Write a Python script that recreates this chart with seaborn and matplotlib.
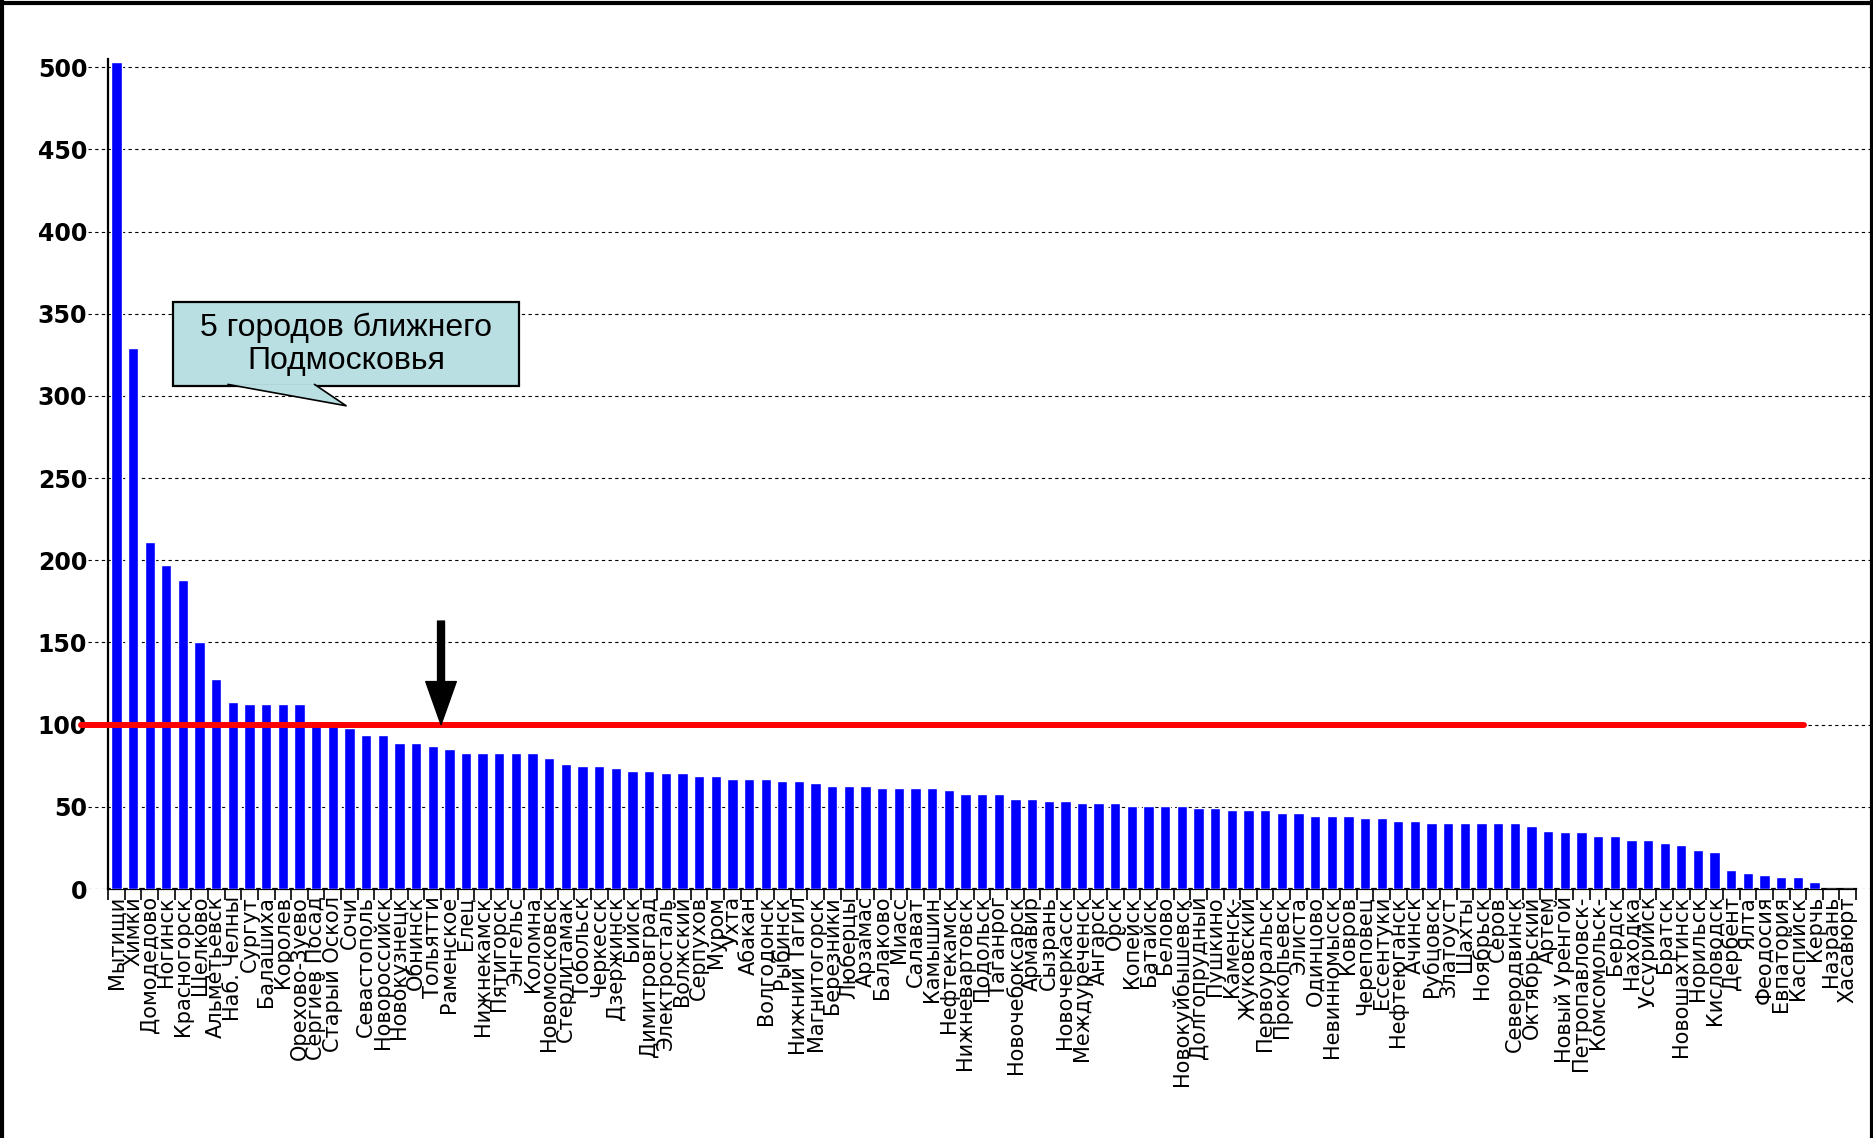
import numpy as np
import pandas as pd
import matplotlib
matplotlib.use("Agg")
import matplotlib.pyplot as plt
import seaborn as sns
from matplotlib.lines import Line2D
from matplotlib.patches import Rectangle

cities = [
    "Мытищи", "Химки", "Домодедово", "Ногинск", "Красногорск", "Щелково",
    "Альметьевск", "Наб. Челны", "Сургут", "Балашиха", "Королев",
    "Орехово-Зуево", "Сергиев Посад", "Старый Оскол", "Сочи", "Севастополь",
    "Новороссийск", "Новокузнецк", "Обнинск", "Тольятти", "Раменское", "Елец",
    "Нижнекамск", "Пятигорск", "Энгельс", "Коломна", "Новомосковск",
    "Стерлитамак", "Тобольск", "Черкесск", "Дзержинск", "Бийск",
    "Димитровград", "Электросталь", "Волжский", "Серпухов", "Муром", "Ухта",
    "Абакан", "Волгодонск", "Рыбинск", "Нижний Тагил", "Магнитогорск",
    "Березники", "Люберцы", "Арзамас", "Балаково", "Миасс", "Салават",
    "Камышин", "Нефтекамск", "Нижневартовск", "Подольск", "Таганрог",
    "Новочебоксарск", "Армавир", "Сызрань", "Новочеркасск", "Междуреченск",
    "Ангарск", "Орск", "Копейск", "Батайск", "Белово", "Новокуйбышевск",
    "Долгопрудный", "Пушкино", "Каменск-", "Жуковский", "Первоуральск",
    "Прокопьевск", "Элиста", "Одинцово", "Невинномысск", "Ковров",
    "Череповец", "Ессентуки", "Нефтеюганск", "Ачинск", "Рубцовск",
    "Златоуст", "Шахты", "Ноябрьск", "Серов", "Северодвинск", "Октябрьский",
    "Артем", "Новый Уренгой", "Петропавловск-", "Комсомольск-", "Бердск",
    "Находка", "Уссурийск", "Братск", "Новошахтинск", "Норильск",
    "Кисловодск", "Дербент", "Ялта", "Феодосия", "Евпатория", "Каспийск",
    "Керчь", "Назрань", "Хасавюрт",
]

values = [
    503, 329, 211, 197, 188, 150,
    128, 114, 112.5, 112.5, 112.5,
    112.5, 102.5, 99, 98, 93.5,
    93.5, 89, 89, 87, 85, 82.5,
    82.5, 82.5, 82.5, 82.5, 80,
    76, 75, 75, 73.5, 71.5,
    71.5, 70.5, 70.5, 69, 69, 67,
    67, 67, 66, 66, 64.5,
    62.5, 62.5, 62.5, 61.5, 61.5, 61.5,
    61.5, 60, 58, 58, 58,
    55, 55, 53.5, 53.5, 52.5,
    52.5, 52.5, 50.5, 50.5, 50.5, 50.5,
    49, 49, 48, 48, 48,
    46.5, 46.5, 44.5, 44.5, 44.5,
    43.5, 43.5, 41.5, 41.5, 40,
    40, 40, 40, 40, 40, 38.5,
    35.5, 34.5, 34.5, 32.5, 32.5,
    30, 30, 28, 27, 23.5,
    22.5, 11.5, 9.5, 8.5, 7, 7,
    4.5, 0, 0,
]

threshold = 100
arrow_from = 163
callout_text = "5 городов ближнего\nПодмосковья"
y_ticks = list(range(0, 501, 50))

sns.set_theme(style="white")
plt.rcParams["font.family"] = ["DejaVu Sans"]

fig = plt.figure(figsize=(18.74, 11.38), dpi=100)
ax = fig.add_axes([0.047, 0.2188, 0.952, 0.7294])

df = pd.DataFrame({"city": cities, "value": values})
sns.barplot(data=df, x="city", y="value", color="#0000ff", saturation=1,
            width=0.62, ax=ax, zorder=3)

n = len(cities)
ax.set_xlim(-1.7, n - 0.5 + 0.96)
ax.set_ylim(0, 505)
ax.set_xlabel("")
ax.set_ylabel("")

ax.set_yticks(y_ticks)
ax.yaxis.grid(True, color="black", linestyle=(0, (3, 3)), linewidth=0.8)
ax.xaxis.grid(False)
ax.set_axisbelow(True)

for s in ["top", "right"]:
    ax.spines[s].set_visible(False)
ax.spines["left"].set_position(("data", -0.5))
ax.spines["left"].set_color("black")
ax.spines["left"].set_linewidth(1.6)
ax.spines["bottom"].set_bounds(-0.5, n - 0.5)
ax.spines["bottom"].set_color("black")
ax.spines["bottom"].set_linewidth(1.6)

ax.tick_params(axis="y", length=0, pad=15, labelsize=17, labelcolor="black")
for lab in ax.get_yticklabels():
    lab.set_fontweight("bold")

ax.set_xticks(range(n))
ax.set_xticklabels(cities, rotation=90, fontsize=15, color="black")
ax.tick_params(axis="x", which="major", length=0, pad=5, bottom=True)
ax.set_xticks(np.arange(-0.5, n), minor=True)
ax.tick_params(axis="x", which="minor", length=8, width=1.2, color="black",
               direction="out", bottom=True)

# threshold line
ax.axhline(threshold, xmin=-0.004, xmax=0.962, color="red", lw=4.3,
           clip_on=False, zorder=5)

# black arrow
ax.annotate("", xy=(19.5, threshold), xytext=(19.5, arrow_from),
            arrowprops=dict(facecolor="black", edgecolor="black", width=5,
                            headwidth=22, headlength=31, shrink=0),
            zorder=6)

# callout box
box_fc = "#b9dfe3"
ax.add_patch(Rectangle((3.4, 306), 20.8, 51, fc=box_fc, ec="black", lw=1.6,
                       zorder=7))
ax.text(13.8, 331.5, callout_text, ha="center", va="center", fontsize=23,
        family=["Liberation Sans", "DejaVu Sans"], color="black",
        linespacing=1.15, zorder=9)
# callout tail
tail_x = [6.7, 13.8, 11.9]
tail_y = [307, 294, 307]
ax.fill(tail_x, tail_y, color=box_fc, zorder=8, lw=0)
ax.plot(tail_x, tail_y, color="black", lw=1.2, zorder=8)

# figure frame
for xs, ys in [([0, 1], [0.997, 0.997]), ([0.001, 0.001], [0, 1]), ([0.999, 0.999], [0, 1])]:
    fig.add_artist(Line2D(xs, ys, transform=fig.transFigure, color="black", lw=3))

fig.savefig("out.png", dpi=100)
